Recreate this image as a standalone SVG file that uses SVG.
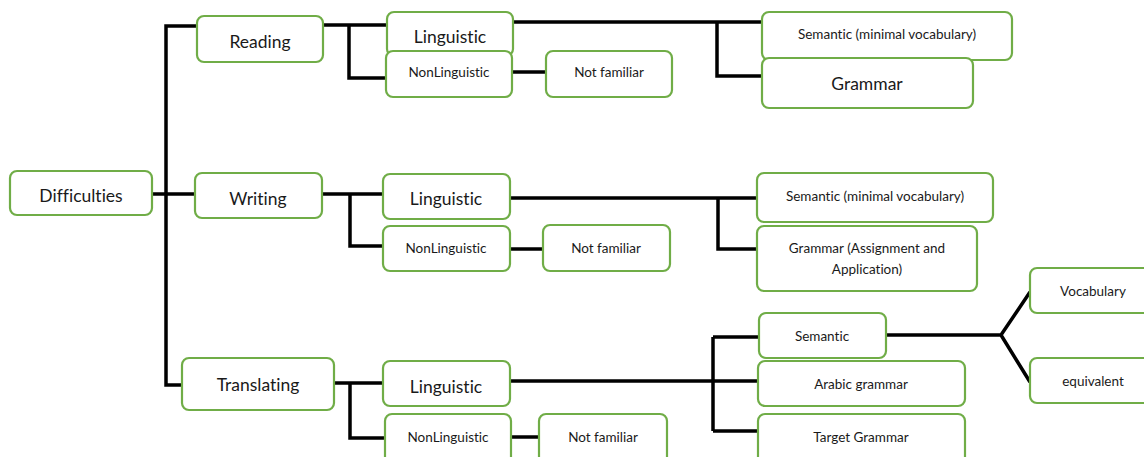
<svg xmlns="http://www.w3.org/2000/svg" width="1144" height="457" viewBox="0 0 1144 457">
<style>
.b{fill:#fff;stroke:#70AD47;stroke-width:2.2}
.c{fill:none;stroke:#000;stroke-width:3.5;stroke-linejoin:miter}
text{font-family:Lato,"Liberation Sans",sans-serif;fill:#1a1a1a;text-anchor:middle;dominant-baseline:central;font-variant-ligatures:none;font-feature-settings:"liga" 0}
.L{font-size:17.5px}
.S{font-size:13.5px}
</style>
<rect width="1144" height="457" fill="#fff"/>
<g id="connectors">
<path class="c" d="M197,26H166V385H182M152,194H196"/>
<path class="c" d="M323,25H387M349,25V78H386"/>
<path class="c" d="M513,22H762M717,22V76H762"/>
<path class="c" d="M512,72H546"/>
<path class="c" d="M322,194H383M350,194V246H383"/>
<path class="c" d="M510,249H543"/>
<path class="c" d="M510,198H757M718,198V249H757"/>
<path class="c" d="M334,383H383M350,383V438H385"/>
<path class="c" d="M511,437H539"/>
<path class="c" d="M510,381H758M713,337V431M713,337H759M713,431H758"/>
<path class="c" d="M886,335H1001L1030,292M1001,335L1030,382"/>
</g>
<g id="difficulties"><rect class="b" x="10" y="171" width="142" height="44" rx="7"/><text class="L" x="81" y="195">Difficulties</text></g>
<g id="reading"><rect class="b" x="197" y="16" width="126" height="46" rx="7"/><text class="L" x="260" y="41">Reading</text></g>
<g id="reading-linguistic"><rect class="b" x="387" y="12" width="126" height="44" rx="7"/><text class="L" x="450" y="36">Linguistic</text></g>
<g id="reading-nonlinguistic"><rect class="b" x="386" y="51" width="126" height="46" rx="7"/><text class="S" x="449" y="72">NonLinguistic</text></g>
<g id="reading-notfamiliar"><rect class="b" x="546" y="51" width="126" height="46" rx="7"/><text class="S" x="609" y="72">Not familiar</text></g>
<g id="reading-semantic"><rect class="b" x="762" y="12" width="250" height="48" rx="7"/><text class="S" x="887" y="34">Semantic (minimal vocabulary)</text></g>
<g id="reading-grammar"><rect class="b" x="762" y="58" width="211" height="50" rx="7"/><text class="L" x="867" y="83">Grammar</text></g>
<g id="writing"><rect class="b" x="195" y="173" width="127" height="45" rx="7"/><text class="L" x="258" y="198">Writing</text></g>
<g id="writing-linguistic"><rect class="b" x="383" y="174" width="127" height="45" rx="7"/><text class="L" x="446" y="198">Linguistic</text></g>
<g id="writing-nonlinguistic"><rect class="b" x="383" y="226" width="127" height="45" rx="7"/><text class="S" x="446" y="248">NonLinguistic</text></g>
<g id="writing-notfamiliar"><rect class="b" x="543" y="225" width="127" height="46" rx="7"/><text class="S" x="606" y="248">Not familiar</text></g>
<g id="writing-semantic"><rect class="b" x="757" y="173" width="236" height="49" rx="7"/><text class="S" x="875" y="196">Semantic (minimal vocabulary)</text></g>
<g id="writing-grammar"><rect class="b" x="757" y="226" width="220" height="65" rx="7"/><text class="S" x="867" y="248">Grammar (Assignment and</text><text class="S" x="867" y="269">Application)</text></g>
<g id="translating"><rect class="b" x="182" y="358" width="152" height="52" rx="7"/><text class="L" x="258" y="384">Translating</text></g>
<g id="translating-linguistic"><rect class="b" x="383" y="361" width="127" height="45" rx="7"/><text class="L" x="446" y="386">Linguistic</text></g>
<g id="translating-nonlinguistic"><rect class="b" x="385" y="414" width="126" height="50" rx="7"/><text class="S" x="448" y="437">NonLinguistic</text></g>
<g id="translating-notfamiliar"><rect class="b" x="539" y="414" width="128" height="50" rx="7"/><text class="S" x="603" y="437">Not familiar</text></g>
<g id="translating-semantic"><rect class="b" x="759" y="313" width="127" height="45" rx="7"/><text class="S" x="822" y="336">Semantic</text></g>
<g id="arabic-grammar"><rect class="b" x="758" y="361" width="207" height="45" rx="7"/><text class="S" x="861" y="384">Arabic grammar</text></g>
<g id="target-grammar"><rect class="b" x="758" y="414" width="207" height="50" rx="7"/><text class="S" x="861" y="437">Target Grammar</text></g>
<g id="vocabulary"><rect class="b" x="1030" y="268" width="130" height="45" rx="7"/><text class="S" x="1093" y="291">Vocabulary</text></g>
<g id="equivalent"><rect class="b" x="1030" y="358" width="130" height="45" rx="7"/><text class="S" x="1093" y="381">equivalent</text></g>
</svg>
